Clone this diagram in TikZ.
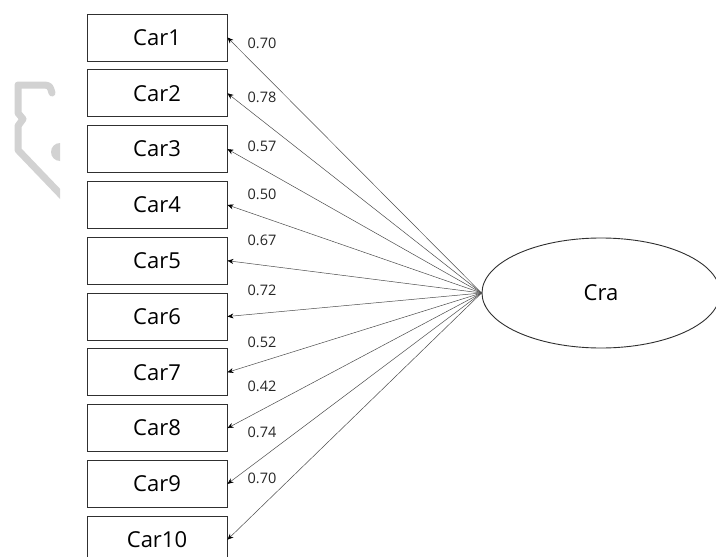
\documentclass[tikz,border=0pt]{standalone}
\usepackage{fontspec}
\setmainfont{Open Sans}
\usetikzlibrary{arrows.meta,shapes.geometric}

\definecolor{logogrey}{HTML}{D2D2D2}
\definecolor{ink}{HTML}{303030}

\begin{document}
\begin{tikzpicture}[x=1pt,y=-1pt,
  obs/.style={draw=ink, line width=0.9pt, minimum width=140pt, minimum height=47pt,
              inner sep=0pt, font=\fontsize{22}{24}\selectfont},
  lat/.style={draw=ink, ellipse, line width=0.9pt, minimum width=238pt,
              minimum height=110pt, inner sep=0pt, font=\fontsize{22}{24}\selectfont},
  load/.style={draw=black!70, line width=0.5pt, -{Stealth[length=6pt,width=5pt,black]}},
  coef/.style={font=\fontsize{14.5}{16}\selectfont, inner sep=0pt, text=black!85},
  logo/.style={draw=logogrey, line width=7pt, line join=round, line cap=round}]

\useasboundingbox (0,0) rectangle (716,557);
\clip (0,0) rectangle (716,557);
\fill[white] (0,0) rectangle (716,557);

% faint logo fragment at the left margin
\begin{scope}
  \clip (0,0) rectangle (60,557);
  \draw[logo] (52,93) .. controls (50,86) .. (45,85) -- (18,85) -- (18,113)
              -- (23,119) -- (18,126) -- (18,150) -- (64,198);
  \fill[logogrey] (60,152) circle (9);
\end{scope}

% indicator boxes
\foreach \i in {1,...,10}
  \node[obs] (car\i) at (157, {37.5+55.8*(\i-1)}) {Car\i};

% latent construct
\node[lat] (cra) at (601,293) {Cra};

% loadings
\foreach \i/\v/\ly in {1/0.70/43, 2/0.78/97, 3/0.57/146, 4/0.50/194, 5/0.67/240,
                       6/0.72/290, 7/0.52/342, 8/0.42/386, 9/0.74/432, 10/0.70/478} {
  \draw[load] (cra.west) -- (car\i.east);
  \node[coef] (lab\i) at (262,\ly) {\v};
}
\end{tikzpicture}
\end{document}
